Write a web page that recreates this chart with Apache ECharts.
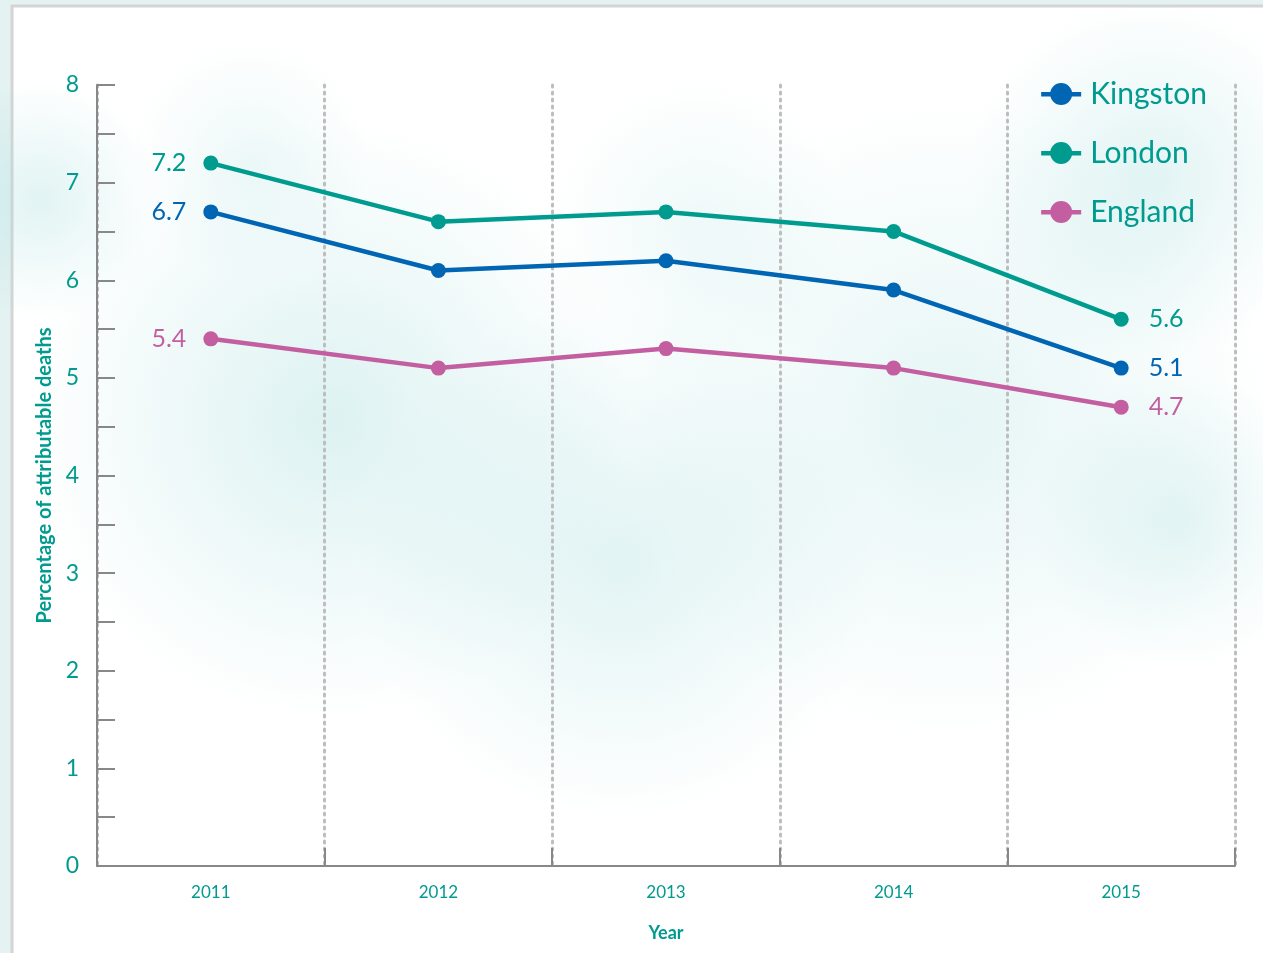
<!DOCTYPE html>
<html>
<head>
<meta charset="utf-8">
<script src="https://cdn.jsdelivr.net/npm/echarts@6/dist/echarts.min.js"></script>
<style>
html,body{margin:0;padding:0;background:#e4f2f2;}
#chart{width:1263px;height:953px;}
</style>
</head>
<body>
<div id="chart"></div>
<script>
const years = ['2011', '2012', '2013', '2014', '2015'];
const kingston = [6.7, 6.1, 6.2, 5.9, 5.1];
const london = [7.2, 6.6, 6.7, 6.5, 5.6];
const england = [5.4, 5.1, 5.3, 5.1, 4.7];
const seriesNames = ['Kingston', 'London', 'England'];
const yTicks = [0, 1, 2, 3, 4, 5, 6, 7, 8];

const TEAL = '#009b8f';
const BLUE = '#0065b3';
const PINK = '#c35fa1';
const FONT = 'Lato, "Open Sans", sans-serif';

function cloud(cx, cy, rx, ry, op) {
  return {
    type: 'ellipse', silent: true, z: -5,
    shape: {cx: cx, cy: cy, rx: rx, ry: ry},
    style: {
      fill: {
        type: 'radial', x: 0.5, y: 0.5, r: 0.5,
        colorStops: [
          {offset: 0, color: 'rgba(170,222,222,' + op + ')'},
          {offset: 1, color: 'rgba(170,222,222,0)'}
        ]
      }
    }
  };
}

function makeSeries(name, data, color) {
  const last = data.length - 1;
  return {
    name: name, type: 'line',
    data: data.map(function (v, i) {
      if (i === 0) return {value: v, label: {show: true, position: 'left', distance: 17}};
      if (i === last) return {value: v, label: {show: true, position: 'right', distance: 20}};
      return {value: v, label: {show: false}};
    }),
    symbol: 'circle', symbolSize: 15, showSymbol: true,
    lineStyle: {width: 4.5, color: color},
    itemStyle: {color: color},
    label: {show: true, fontFamily: FONT, fontSize: 25, color: color,
      formatter: function (p) { return String(p.value); }},
    emphasis: {disabled: true}
  };
}

const legendIcon = 'path://M0,10 L40,10 L40,14.5 L0,14.5 Z M20,1 A11,11 0 1,1 19.99,1 Z';

const chart = echarts.init(document.getElementById('chart'));
chart.setOption({
  animation: false,
  backgroundColor: 'transparent',
  graphic: [
    {type: 'rect', silent: true, z: -10, shape: {x: 12, y: 6, width: 1300, height: 1000},
     style: {fill: '#ffffff', stroke: '#d4d4d4', lineWidth: 3}},
    cloud(330, 420, 320, 300, 0.4),
    cloud(620, 560, 380, 260, 0.35),
    cloud(950, 420, 330, 320, 0.3),
    cloud(1150, 180, 200, 180, 0.35),
    cloud(250, 160, 250, 120, 0.2),
    cloud(700, 230, 320, 150, 0.2),
    cloud(1180, 520, 150, 300, 0.3),
    cloud(40, 200, 120, 300, 0.35)
  ],
  legend: {
    data: seriesNames,
    orient: 'vertical', right: 51, top: 74,
    itemWidth: 40, itemHeight: 24, itemGap: 29,
    textStyle: {fontFamily: FONT, fontSize: 30, color: TEAL, padding: [0, 0, 0, 4]},
    icon: legendIcon
  },
  grid: {left: 97, right: 28, top: 85, bottom: 87, containLabel: false},
  xAxis: {
    type: 'category', data: years, boundaryGap: true,
    name: 'Year', nameLocation: 'middle', nameGap: 58,
    nameTextStyle: {fontFamily: FONT, fontSize: 18, fontWeight: 'bold', color: TEAL},
    axisLine: {lineStyle: {color: '#888888', width: 2}},
    axisTick: {show: true, inside: true, length: 18, lineStyle: {color: '#888888', width: 2}},
    axisLabel: {fontFamily: FONT, fontSize: 17, color: TEAL, margin: 18},
    splitLine: {show: true, lineStyle: {type: [2, 5], color: '#bdbdbd', width: 3, cap: 'round'}}
  },
  yAxis: {
    type: 'value', min: 0, max: 8, interval: 0.5,
    name: 'Percentage of attributable deaths', nameLocation: 'middle', nameGap: 37,
    nameTextStyle: {fontFamily: FONT, fontSize: 20, fontWeight: 'bold', color: TEAL},
    axisLine: {show: true, lineStyle: {color: '#888888', width: 2}},
    axisTick: {show: true, inside: true, length: 18, lineStyle: {color: '#888888', width: 2}},
    axisLabel: {fontFamily: FONT, fontSize: 23, color: TEAL, margin: 18,
      formatter: function (v) { return yTicks.indexOf(v) >= 0 ? String(v) : ''; }},
    splitLine: {show: false}
  },
  series: [
    makeSeries(seriesNames[0], kingston, BLUE),
    makeSeries(seriesNames[1], london, TEAL),
    makeSeries(seriesNames[2], england, PINK)
  ]
});
</script>
</body>
</html>
